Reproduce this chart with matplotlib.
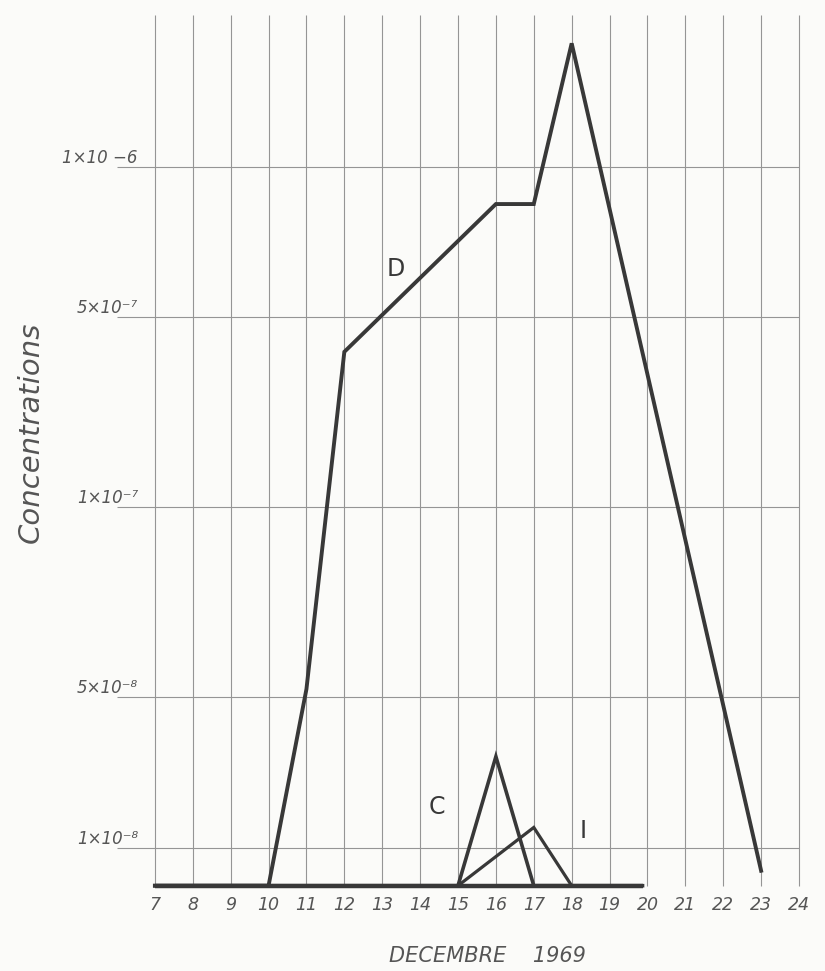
import numpy as np
import matplotlib.pyplot as plt

# jours de decembre 1969
days = list(range(7, 25))
day_labels = [str(d) for d in days]

# courbe D
d_days = [7, 8, 9, 10, 11, 12, 16, 17, 18, 23]
d_vals = [0, 0, 0, 0, 5.2e-8, 4.26e-7, 8.75e-7, 8.75e-7, 1.41e-6, 4e-9]

# courbe C
c_days = [7, 15, 16, 17, 19.87]
c_vals = [0, 0, 3.42e-8, 0, 0]

# courbe I
i_days = [15, 17, 18]
i_vals = [0, 1.55e-8, 0]

# niveaux de l'echelle (dessinee a la main, non reguliere)
levels = [1e-8, 5e-8, 1e-7, 5e-7, 1e-6]
level_labels = ["1×10⁻⁸", "5×10⁻⁸", "1×10⁻⁷", "5×10⁻⁷", "1×10 −6"]

# correspondance valeur -> hauteur sur le papier
scale_vals = np.array([-1e-8, 0, 1e-8, 5e-8, 1e-7, 5e-7, 1e-6, 2e-6])
scale_pos = np.array([-37.4, 0, 37.4, 189.0, 379.0, 569.0, 719.2, 1019.6])


def forward(v):
    return np.interp(v, scale_vals, scale_pos)


def inverse(p):
    return np.interp(p, scale_pos, scale_vals)


ink = "#383838"
grid = "#959595"
text_col = "#555555"

fig = plt.figure(figsize=(8.25, 9.71), dpi=100)
fig.patch.set_facecolor("#fbfbf9")
ax = fig.add_axes([117 / 825, 76 / 971, 682 / 825, 880 / 971])
ax.set_facecolor("none")
ax.set_yscale("function", functions=(forward, inverse))
ax.set_xlim(6.0, 24.0)
y_top = float(inverse(870.7))
ax.set_ylim(float(inverse(-9.3)), y_top)
for s in ax.spines.values():
    s.set_visible(False)

# quadrillage
ax.vlines(days, 0, y_top, colors=grid, linewidth=0.8, clip_on=False)
ax.hlines(levels, 6.0, 24.0, colors=grid, linewidth=0.8, clip_on=False)

# courbes
ax.plot([7, 19.87], [0, 0], color=ink, linewidth=3.2, solid_capstyle="butt")
ax.plot(d_days, d_vals, color=ink, linewidth=2.8, solid_joinstyle="miter")
ax.plot(c_days, c_vals, color=ink, linewidth=2.6, solid_joinstyle="miter")
ax.plot(i_days, i_vals, color=ink, linewidth=2.3, solid_joinstyle="miter")

ax.text(13.35, 6.6e-7, "D", fontsize=17, color=ink, ha="center", va="center")
ax.text(14.45, 2.1e-8, "C", fontsize=17, color=ink, ha="center", va="center")
ax.text(18.3, 1.45e-8, "I", fontsize=17, color=ink, ha="center", va="center")

# graduations
ax.set_xticks(days)
ax.set_xticklabels(day_labels, fontsize=12.5, style="italic", color=text_col)
ax.tick_params(axis="x", length=0, pad=1)
ax.set_yticks([])

for lev, lab in zip(levels, level_labels):
    ax.text(6.55, lev, lab, fontsize=12, style="italic", color=text_col,
            ha="right", va="bottom")

fig.text(31 / 825, 1 - 432 / 971, "Concentrations", rotation=90, fontsize=21,
         style="italic", color=text_col, ha="center", va="center")
fig.text(487 / 825, 1 - 956 / 971, "DECEMBRE    1969", fontsize=15,
         style="italic", color=text_col, ha="center", va="center")

fig.savefig("out.png", dpi=100, facecolor=fig.get_facecolor())
